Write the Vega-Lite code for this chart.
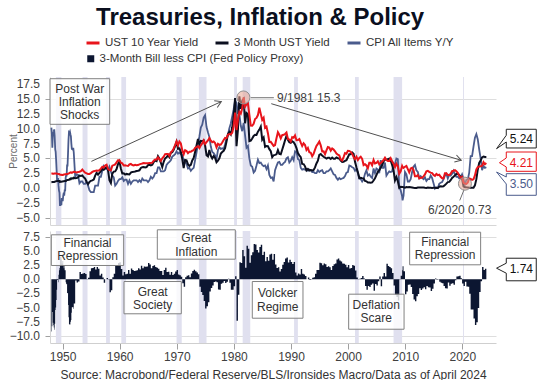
{
"$schema": "https://vega.github.io/schema/vega-lite/v6.json",
"padding": {"left": 8, "top": 6, "right": 0, "bottom": 0},
"background": "white",
"title": {"text": "Treasuries, Inflation & Policy", "font": "Liberation Sans", "fontSize": 24, "fontWeight": "bold", "color": "#0b0f1e", "anchor": "middle", "offset": 5, "dx": -13},
"config": {
  "font": "Liberation Sans",
  "view": {"stroke": null},
  "axis": {"labelFont": "Liberation Sans", "labelFontSize": 12, "labelColor": "#404040", "gridColor": "#dedede", "tickColor": "#a0a0a0", "domainColor": "#d6d6d6", "titleFont": "Liberation Sans"},
  "legend": {"labelFont": "Liberation Sans", "labelLimit": 400}
},
"datasets": {
"m": [
{"t":1948.04,"a":2.45,"b":0.97,"c":10.2,"p":-9.23},
{"t":1948.12,"a":2.45,"b":0.99,"c":9.3,"p":-8.31},
{"t":1948.21,"a":2.44,"b":1.00,"c":6.8,"p":-5.80},
{"t":1948.29,"a":2.42,"b":1.00,"c":8.7,"p":-7.70},
{"t":1948.37,"a":2.40,"b":1.00,"c":9.1,"p":-8.10},
{"t":1948.46,"a":2.41,"b":1.00,"c":9.5,"p":-8.50},
{"t":1948.54,"a":2.44,"b":1.00,"c":9.9,"p":-8.90},
{"t":1948.62,"a":2.45,"b":1.05,"c":8.9,"p":-7.85},
{"t":1948.71,"a":2.45,"b":1.07,"c":6.5,"p":-5.43},
{"t":1948.79,"a":2.45,"b":1.12,"c":6.1,"p":-4.98},
{"t":1948.87,"a":2.44,"b":1.14,"c":4.8,"p":-3.66},
{"t":1948.96,"a":2.44,"b":1.16,"c":3.0,"p":-1.84},
{"t":1949.04,"a":2.42,"b":1.17,"c":1.3,"p":-0.13},
{"t":1949.12,"a":2.39,"b":1.17,"c":1.3,"p":-0.13},
{"t":1949.21,"a":2.38,"b":1.17,"c":1.7,"p":-0.53},
{"t":1949.29,"a":2.38,"b":1.17,"c":0.4,"p":0.77},
{"t":1949.37,"a":2.38,"b":1.17,"c":-0.4,"p":1.57},
{"t":1949.46,"a":2.36,"b":1.17,"c":-0.8,"p":1.97},
{"t":1949.54,"a":2.27,"b":1.02,"c":-2.9,"p":3.92},
{"t":1949.62,"a":2.24,"b":1.04,"c":-2.9,"p":3.94},
{"t":1949.71,"a":2.22,"b":1.07,"c":-2.4,"p":3.47},
{"t":1949.79,"a":2.22,"b":1.05,"c":-2.9,"p":3.95},
{"t":1949.87,"a":2.20,"b":1.08,"c":-1.7,"p":2.78},
{"t":1949.96,"a":2.19,"b":1.10,"c":-2.1,"p":3.20},
{"t":1950.04,"a":2.20,"b":1.10,"c":-2.1,"p":3.20},
{"t":1950.12,"a":2.24,"b":1.13,"c":-1.3,"p":2.43},
{"t":1950.21,"a":2.27,"b":1.14,"c":-0.8,"p":1.94},
{"t":1950.29,"a":2.30,"b":1.16,"c":-1.3,"p":2.46},
{"t":1950.37,"a":2.31,"b":1.17,"c":-0.4,"p":1.57},
{"t":1950.46,"a":2.33,"b":1.17,"c":-0.4,"p":1.57},
{"t":1950.54,"a":2.34,"b":1.17,"c":1.7,"p":-0.53},
{"t":1950.62,"a":2.33,"b":1.21,"c":2.1,"p":-0.89},
{"t":1950.71,"a":2.36,"b":1.31,"c":2.1,"p":-0.79},
{"t":1950.79,"a":2.38,"b":1.33,"c":3.8,"p":-2.47},
{"t":1950.87,"a":2.38,"b":1.36,"c":3.8,"p":-2.44},
{"t":1950.96,"a":2.40,"b":1.37,"c":5.9,"p":-4.53},
{"t":1951.04,"a":2.46,"b":1.39,"c":8.1,"p":-6.71},
{"t":1951.12,"a":2.47,"b":1.39,"c":9.4,"p":-8.01},
{"t":1951.21,"a":2.52,"b":1.42,"c":9.3,"p":-7.88},
{"t":1951.29,"a":2.59,"b":1.52,"c":9.5,"p":-7.98},
{"t":1951.37,"a":2.61,"b":1.58,"c":9.1,"p":-7.52},
{"t":1951.46,"a":2.64,"b":1.50,"c":8.7,"p":-7.20},
{"t":1951.54,"a":2.63,"b":1.59,"c":7.5,"p":-5.91},
{"t":1951.62,"a":2.57,"b":1.64,"c":6.6,"p":-4.96},
{"t":1951.71,"a":2.61,"b":1.64,"c":6.6,"p":-4.96},
{"t":1951.79,"a":2.66,"b":1.61,"c":6.5,"p":-4.89},
{"t":1951.87,"a":2.70,"b":1.61,"c":6.8,"p":-5.19},
{"t":1951.96,"a":2.73,"b":1.73,"c":6.0,"p":-4.27},
{"t":1952.21,"a":2.70,"b":1.66,"c":1.9,"p":-0.24},
{"t":1952.46,"a":2.61,"b":1.70,"c":2.3,"p":-0.60},
{"t":1952.71,"a":2.71,"b":1.79,"c":2.2,"p":-0.41},
{"t":1952.96,"a":2.75,"b":2.09,"c":0.8,"p":1.29},
{"t":1953.21,"a":2.85,"b":2.03,"c":1.1,"p":0.93},
{"t":1953.46,"a":3.11,"b":2.11,"c":1.1,"p":1.01},
{"t":1953.71,"a":2.82,"b":1.79,"c":0.7,"p":1.09},
{"t":1953.96,"a":2.59,"b":1.60,"c":0.7,"p":0.90},
{"t":1954.21,"a":2.48,"b":1.03,"c":1.1,"p":-0.07},
{"t":1954.46,"a":2.37,"b":0.64,"c":0.4,"p":0.24},
{"t":1954.71,"a":2.38,"b":1.01,"c":-0.4,"p":1.41},
{"t":1954.96,"a":2.51,"b":1.21,"c":-0.7,"p":1.91},
{"t":1955.21,"a":2.71,"b":1.28,"c":-0.7,"p":1.98},
{"t":1955.46,"a":2.82,"b":1.43,"c":-0.7,"p":2.13},
{"t":1955.71,"a":2.89,"b":2.09,"c":0.4,"p":1.69},
{"t":1955.96,"a":2.96,"b":2.56,"c":0.4,"p":2.16},
{"t":1956.21,"a":2.93,"b":2.25,"c":0.4,"p":1.85},
{"t":1956.46,"a":3.00,"b":2.54,"c":1.9,"p":0.64},
{"t":1956.71,"a":3.28,"b":2.84,"c":1.9,"p":0.94},
{"t":1956.96,"a":3.59,"b":3.21,"c":2.9,"p":0.31},
{"t":1957.21,"a":3.44,"b":3.08,"c":3.7,"p":-0.62},
{"t":1957.46,"a":3.80,"b":3.29,"c":3.3,"p":-0.01},
{"t":1957.71,"a":3.93,"b":3.53,"c":3.3,"p":0.23},
{"t":1957.96,"a":3.21,"b":3.04,"c":3.0,"p":0.04},
{"t":1958.21,"a":3.02,"b":1.30,"c":3.6,"p":-2.30},
{"t":1958.46,"a":2.97,"b":0.83,"c":2.8,"p":-1.97},
{"t":1958.71,"a":3.77,"b":2.44,"c":2.1,"p":0.34},
{"t":1958.96,"a":3.86,"b":2.77,"c":1.8,"p":0.97},
{"t":1959.21,"a":3.99,"b":2.80,"c":0.4,"p":2.40},
{"t":1959.46,"a":4.33,"b":3.20,"c":0.7,"p":2.50},
{"t":1959.71,"a":4.68,"b":4.04,"c":1.2,"p":2.84},
{"t":1959.96,"a":4.69,"b":4.49,"c":1.5,"p":2.99},
{"t":1960.21,"a":4.28,"b":3.31,"c":1.5,"p":1.81},
{"t":1960.46,"a":4.16,"b":2.46,"c":1.8,"p":0.66},
{"t":1960.71,"a":3.80,"b":2.48,"c":1.2,"p":1.28},
{"t":1960.96,"a":3.84,"b":2.27,"c":1.4,"p":0.87},
{"t":1961.21,"a":3.78,"b":2.38,"c":1.4,"p":0.98},
{"t":1961.46,"a":3.73,"b":2.33,"c":0.7,"p":1.63},
{"t":1961.71,"a":3.98,"b":2.28,"c":1.3,"p":0.98},
{"t":1961.96,"a":4.06,"b":2.60,"c":0.7,"p":1.90},
{"t":1962.21,"a":3.89,"b":2.72,"c":1.1,"p":1.62},
{"t":1962.46,"a":3.82,"b":2.73,"c":1.3,"p":1.43},
{"t":1962.71,"a":3.93,"b":2.78,"c":1.3,"p":1.48},
{"t":1962.96,"a":3.86,"b":2.86,"c":1.3,"p":1.56},
{"t":1963.21,"a":3.87,"b":2.91,"c":1.0,"p":1.91},
{"t":1963.46,"a":4.00,"b":2.99,"c":1.3,"p":1.69},
{"t":1963.71,"a":4.08,"b":3.38,"c":1.0,"p":2.38},
{"t":1963.96,"a":4.14,"b":3.52,"c":1.6,"p":1.92},
{"t":1964.21,"a":4.22,"b":3.54,"c":1.3,"p":2.24},
{"t":1964.46,"a":4.17,"b":3.48,"c":1.3,"p":2.18},
{"t":1964.71,"a":4.20,"b":3.53,"c":1.3,"p":2.23},
{"t":1964.96,"a":4.18,"b":3.86,"c":1.0,"p":2.86},
{"t":1965.21,"a":4.21,"b":3.91,"c":1.3,"p":2.61},
{"t":1965.46,"a":4.21,"b":3.81,"c":1.9,"p":1.91},
{"t":1965.71,"a":4.28,"b":3.92,"c":1.6,"p":2.32},
{"t":1965.96,"a":4.62,"b":4.38,"c":1.9,"p":2.48},
{"t":1966.21,"a":4.81,"b":4.63,"c":2.5,"p":2.13},
{"t":1966.46,"a":4.81,"b":4.54,"c":2.5,"p":2.04},
{"t":1966.71,"a":5.18,"b":5.36,"c":3.5,"p":1.86},
{"t":1966.96,"a":4.84,"b":4.96,"c":3.5,"p":1.46},
{"t":1967.21,"a":4.55,"b":4.26,"c":2.8,"p":1.46},
{"t":1967.46,"a":5.02,"b":3.53,"c":2.8,"p":0.73},
{"t":1967.71,"a":5.30,"b":4.42,"c":2.8,"p":1.62},
{"t":1967.96,"a":5.73,"b":5.01,"c":3.0,"p":2.01},
{"t":1968.21,"a":5.76,"b":5.17,"c":3.9,"p":1.27},
{"t":1968.46,"a":5.74,"b":5.52,"c":4.2,"p":1.32},
{"t":1968.71,"a":5.42,"b":5.20,"c":4.4,"p":0.80},
{"t":1968.96,"a":6.03,"b":5.96,"c":4.7,"p":1.26},
{"t":1969.21,"a":6.24,"b":6.05,"c":5.3,"p":0.75},
{"t":1969.46,"a":6.67,"b":6.44,"c":5.5,"p":0.94},
{"t":1969.71,"a":7.23,"b":7.08,"c":5.7,"p":1.38},
{"t":1969.96,"a":7.88,"b":7.81,"c":6.2,"p":1.61},
{"t":1970.21,"a":7.21,"b":6.63,"c":5.8,"p":0.83},
{"t":1970.46,"a":7.86,"b":6.68,"c":6.0,"p":0.68},
{"t":1970.71,"a":7.53,"b":6.12,"c":5.7,"p":0.42},
{"t":1970.96,"a":6.39,"b":4.87,"c":5.6,"p":-0.73},
{"t":1971.21,"a":5.71,"b":3.38,"c":4.7,"p":-1.32},
{"t":1971.46,"a":6.40,"b":4.75,"c":4.4,"p":0.35},
{"t":1971.71,"a":6.27,"b":4.69,"c":4.1,"p":0.59},
{"t":1971.96,"a":5.89,"b":4.01,"c":3.3,"p":0.71},
{"t":1972.21,"a":6.12,"b":3.73,"c":3.4,"p":0.33},
{"t":1972.46,"a":6.11,"b":3.91,"c":2.9,"p":1.01},
{"t":1972.71,"a":6.29,"b":4.66,"c":3.2,"p":1.46},
{"t":1972.96,"a":6.37,"b":5.07,"c":3.4,"p":1.67},
{"t":1973.21,"a":6.80,"b":6.09,"c":4.7,"p":1.39},
{"t":1973.46,"a":6.90,"b":7.19,"c":6.0,"p":1.19},
{"t":1973.71,"a":7.06,"b":8.29,"c":7.4,"p":0.89},
{"t":1973.96,"a":6.74,"b":7.36,"c":8.7,"p":-1.34},
{"t":1974.21,"a":7.21,"b":7.96,"c":10.2,"p":-2.24},
{"t":1974.46,"a":7.54,"b":7.90,"c":10.7,"p":-2.80},
{"t":1974.71,"a":8.04,"b":8.06,"c":11.9,"p":-3.84},
{"t":1974.96,"a":7.43,"b":7.15,"c":12.3,"p":-5.15},
{"t":1975.21,"a":7.73,"b":5.54,"c":10.3,"p":-4.76},
{"t":1975.46,"a":8.04,"b":5.34,"c":9.4,"p":-4.06},
{"t":1975.71,"a":8.43,"b":6.42,"c":8.6,"p":-2.18},
{"t":1975.96,"a":8.00,"b":5.44,"c":7.0,"p":-1.56},
{"t":1976.21,"a":7.73,"b":5.00,"c":6.1,"p":-1.10},
{"t":1976.46,"a":7.86,"b":5.41,"c":5.9,"p":-0.49},
{"t":1976.71,"a":7.59,"b":5.08,"c":5.5,"p":-0.42},
{"t":1976.96,"a":6.87,"b":4.35,"c":4.9,"p":-0.55},
{"t":1977.21,"a":7.46,"b":4.60,"c":6.4,"p":-1.80},
{"t":1977.46,"a":7.28,"b":5.02,"c":6.9,"p":-1.88},
{"t":1977.71,"a":7.34,"b":5.81,"c":6.6,"p":-0.79},
{"t":1977.96,"a":7.69,"b":6.07,"c":6.7,"p":-0.63},
{"t":1978.21,"a":8.11,"b":6.29,"c":6.6,"p":-0.31},
{"t":1978.46,"a":8.46,"b":6.73,"c":7.4,"p":-0.67},
{"t":1978.71,"a":8.42,"b":7.85,"c":8.3,"p":-0.45},
{"t":1978.96,"a":9.01,"b":9.08,"c":9.0,"p":0.08},
{"t":1979.21,"a":9.12,"b":9.46,"c":10.1,"p":-0.64},
{"t":1979.46,"a":9.06,"b":9.06,"c":10.9,"p":-1.84},
{"t":1979.71,"a":9.33,"b":10.26,"c":12.1,"p":-1.84},
{"t":1979.96,"a":10.39,"b":12.04,"c":13.3,"p":-1.26},
{"t":1980.21,"a":12.75,"b":15.20,"c":14.7,"p":0.50},
{"t":1980.46,"a":9.78,"b":7.07,"c":14.4,"p":-7.33},
{"t":1980.71,"a":11.51,"b":9.87,"c":12.6,"p":-2.73},
{"t":1980.96,"a":12.84,"b":15.49,"c":12.5,"p":2.99},
{"t":1981.21,"a":12.57,"b":13.36,"c":10.5,"p":2.86},
{"t":1981.46,"a":13.47,"b":14.73,"c":9.6,"p":5.13},
{"t":1981.71,"a":15.32,"b":15.05,"c":11.0,"p":4.05},
{"t":1981.96,"a":13.72,"b":10.93,"c":8.9,"p":2.03},
{"t":1982.21,"a":14.13,"b":12.68,"c":6.8,"p":5.88},
{"t":1982.46,"a":14.30,"b":12.47,"c":7.1,"p":5.37},
{"t":1982.71,"a":12.34,"b":7.92,"c":5.0,"p":2.92},
{"t":1982.96,"a":10.54,"b":8.01,"c":3.8,"p":4.21},
{"t":1983.21,"a":10.51,"b":8.35,"c":3.6,"p":4.75},
{"t":1983.46,"a":10.85,"b":8.79,"c":2.6,"p":6.19},
{"t":1983.71,"a":11.65,"b":9.00,"c":2.9,"p":6.10},
{"t":1983.96,"a":11.83,"b":8.96,"c":3.8,"p":5.16},
{"t":1984.21,"a":12.32,"b":9.52,"c":4.8,"p":4.72},
{"t":1984.46,"a":13.56,"b":9.87,"c":4.2,"p":5.67},
{"t":1984.71,"a":12.52,"b":10.37,"c":4.3,"p":6.07},
{"t":1984.96,"a":11.50,"b":8.16,"c":3.9,"p":4.26},
{"t":1985.21,"a":11.86,"b":8.52,"c":3.7,"p":4.82},
{"t":1985.46,"a":10.16,"b":6.95,"c":3.8,"p":3.15},
{"t":1985.71,"a":10.37,"b":7.10,"c":3.2,"p":3.90},
{"t":1985.96,"a":9.26,"b":7.07,"c":3.8,"p":3.27},
{"t":1986.21,"a":7.78,"b":6.56,"c":2.2,"p":4.36},
{"t":1986.46,"a":7.80,"b":6.21,"c":1.7,"p":4.51},
{"t":1986.71,"a":7.45,"b":5.21,"c":1.8,"p":3.41},
{"t":1986.96,"a":7.11,"b":5.53,"c":1.1,"p":4.43},
{"t":1987.21,"a":7.25,"b":5.59,"c":3.0,"p":2.59},
{"t":1987.46,"a":8.40,"b":5.69,"c":3.7,"p":1.99},
{"t":1987.71,"a":9.42,"b":6.40,"c":4.3,"p":2.10},
{"t":1987.96,"a":8.99,"b":5.77,"c":4.4,"p":1.37},
{"t":1988.21,"a":8.37,"b":5.69,"c":3.9,"p":1.79},
{"t":1988.46,"a":8.92,"b":6.46,"c":3.9,"p":2.56},
{"t":1988.71,"a":8.98,"b":7.24,"c":4.2,"p":3.04},
{"t":1988.96,"a":9.11,"b":8.07,"c":4.4,"p":3.67},
{"t":1989.21,"a":9.36,"b":8.82,"c":5.0,"p":3.82},
{"t":1989.46,"a":8.28,"b":8.15,"c":5.2,"p":2.95},
{"t":1989.71,"a":8.19,"b":7.75,"c":4.3,"p":3.45},
{"t":1989.96,"a":7.84,"b":7.63,"c":4.6,"p":3.03},
{"t":1990.21,"a":8.59,"b":7.90,"c":5.2,"p":2.70},
{"t":1990.46,"a":8.48,"b":7.73,"c":4.7,"p":3.03},
{"t":1990.71,"a":8.89,"b":7.36,"c":6.2,"p":1.16},
{"t":1990.96,"a":8.08,"b":6.74,"c":6.1,"p":0.64},
{"t":1991.21,"a":8.11,"b":5.91,"c":4.9,"p":1.01},
{"t":1991.46,"a":8.28,"b":5.52,"c":4.7,"p":0.82},
{"t":1991.71,"a":7.65,"b":5.22,"c":3.4,"p":1.82},
{"t":1991.96,"a":7.09,"b":4.07,"c":3.1,"p":0.97},
{"t":1992.21,"a":7.54,"b":4.04,"c":3.2,"p":0.84},
{"t":1992.46,"a":7.26,"b":3.66,"c":3.1,"p":0.56},
{"t":1992.71,"a":6.42,"b":2.97,"c":3.0,"p":-0.03},
{"t":1992.96,"a":6.77,"b":3.22,"c":2.9,"p":0.32},
{"t":1993.21,"a":6.03,"b":2.95,"c":3.1,"p":-0.15},
{"t":1993.46,"a":5.96,"b":3.04,"c":3.0,"p":0.04},
{"t":1993.71,"a":5.36,"b":2.95,"c":2.7,"p":0.25},
{"t":1993.96,"a":5.77,"b":3.06,"c":2.7,"p":0.36},
{"t":1994.21,"a":6.48,"b":3.48,"c":2.5,"p":0.98},
{"t":1994.46,"a":7.10,"b":4.14,"c":2.5,"p":1.64},
{"t":1994.71,"a":7.46,"b":4.62,"c":3.0,"p":1.62},
{"t":1994.96,"a":7.84,"b":5.60,"c":2.7,"p":2.90},
{"t":1995.21,"a":7.20,"b":5.73,"c":2.9,"p":2.83},
{"t":1995.46,"a":6.17,"b":5.47,"c":3.0,"p":2.47},
{"t":1995.71,"a":6.20,"b":5.28,"c":2.5,"p":2.78},
{"t":1995.96,"a":5.71,"b":5.14,"c":2.5,"p":2.64},
{"t":1996.21,"a":6.34,"b":4.96,"c":2.8,"p":2.16},
{"t":1996.46,"a":6.91,"b":5.09,"c":2.8,"p":2.29},
{"t":1996.71,"a":6.83,"b":5.09,"c":3.0,"p":2.09},
{"t":1996.96,"a":6.30,"b":4.91,"c":3.3,"p":1.61},
{"t":1997.21,"a":6.69,"b":5.14,"c":2.8,"p":2.34},
{"t":1997.46,"a":6.49,"b":4.93,"c":2.3,"p":2.63},
{"t":1997.71,"a":6.21,"b":4.95,"c":2.2,"p":2.75},
{"t":1997.96,"a":5.81,"b":5.16,"c":1.7,"p":3.46},
{"t":1998.21,"a":5.65,"b":5.03,"c":1.4,"p":3.63},
{"t":1998.46,"a":5.50,"b":4.98,"c":1.7,"p":3.28},
{"t":1998.71,"a":4.81,"b":4.61,"c":1.5,"p":3.11},
{"t":1998.96,"a":4.65,"b":4.39,"c":1.6,"p":2.79},
{"t":1999.21,"a":5.23,"b":4.44,"c":1.7,"p":2.74},
{"t":1999.46,"a":5.90,"b":4.57,"c":2.0,"p":2.57},
{"t":1999.71,"a":5.80,"b":4.69,"c":2.6,"p":2.09},
{"t":1999.96,"a":6.28,"b":5.20,"c":2.7,"p":2.50},
{"t":2000.21,"a":6.26,"b":5.69,"c":3.8,"p":1.89},
{"t":2000.46,"a":6.10,"b":5.69,"c":3.7,"p":1.99},
{"t":2000.71,"a":5.80,"b":6.00,"c":3.5,"p":2.50},
{"t":2000.96,"a":5.24,"b":5.77,"c":3.4,"p":2.37},
{"t":2001.21,"a":4.89,"b":4.42,"c":2.9,"p":1.52},
{"t":2001.46,"a":5.28,"b":3.49,"c":3.2,"p":0.29},
{"t":2001.71,"a":4.73,"b":2.64,"c":2.6,"p":0.04},
{"t":2001.96,"a":5.09,"b":1.69,"c":1.6,"p":0.09},
{"t":2002.21,"a":5.28,"b":1.73,"c":1.5,"p":0.23},
{"t":2002.46,"a":4.93,"b":1.67,"c":1.1,"p":0.57},
{"t":2002.71,"a":3.87,"b":1.63,"c":1.5,"p":0.13},
{"t":2002.96,"a":4.03,"b":1.19,"c":2.4,"p":-1.21},
{"t":2003.21,"a":3.81,"b":1.13,"c":3.0,"p":-1.87},
{"t":2003.46,"a":3.33,"b":0.92,"c":2.1,"p":-1.18},
{"t":2003.71,"a":4.27,"b":0.94,"c":2.3,"p":-1.36},
{"t":2003.96,"a":4.27,"b":0.90,"c":1.9,"p":-1.00},
{"t":2004.21,"a":3.83,"b":0.94,"c":1.7,"p":-0.76},
{"t":2004.46,"a":4.73,"b":1.27,"c":3.3,"p":-2.03},
{"t":2004.71,"a":4.13,"b":1.65,"c":2.5,"p":-0.85},
{"t":2004.96,"a":4.23,"b":2.19,"c":3.3,"p":-1.11},
{"t":2005.21,"a":4.50,"b":2.74,"c":3.1,"p":-0.36},
{"t":2005.46,"a":4.00,"b":2.97,"c":2.5,"p":0.47},
{"t":2005.71,"a":4.20,"b":3.44,"c":4.7,"p":-1.26},
{"t":2005.96,"a":4.47,"b":3.89,"c":3.4,"p":0.49},
{"t":2006.21,"a":4.72,"b":4.51,"c":3.4,"p":1.11},
{"t":2006.46,"a":5.11,"b":4.79,"c":4.3,"p":0.49},
{"t":2006.71,"a":4.72,"b":4.81,"c":2.1,"p":2.71},
{"t":2006.96,"a":4.56,"b":4.85,"c":2.5,"p":2.35},
{"t":2007.21,"a":4.56,"b":4.97,"c":2.8,"p":2.17},
{"t":2007.46,"a":5.03,"b":4.61,"c":2.7,"p":1.91},
{"t":2007.71,"a":4.52,"b":3.89,"c":2.8,"p":1.09},
{"t":2007.96,"a":4.10,"b":3.00,"c":4.1,"p":-1.10},
{"t":2008.21,"a":3.51,"b":1.28,"c":4.0,"p":-2.72},
{"t":2008.46,"a":4.09,"b":1.86,"c":5.0,"p":-3.14},
{"t":2008.71,"a":3.69,"b":1.13,"c":4.9,"p":-3.77},
{"t":2008.96,"a":2.42,"b":0.03,"c":0.1,"p":-0.07},
{"t":2009.21,"a":2.82,"b":0.21,"c":-0.4,"p":0.61},
{"t":2009.46,"a":3.72,"b":0.18,"c":-1.4,"p":1.58},
{"t":2009.54,"a":3.56,"b":0.18,"c":-2.1,"p":2.28},
{"t":2009.71,"a":3.40,"b":0.12,"c":-1.3,"p":1.42},
{"t":2009.96,"a":3.59,"b":0.05,"c":2.7,"p":-2.65},
{"t":2010.21,"a":3.73,"b":0.15,"c":2.3,"p":-2.15},
{"t":2010.46,"a":3.20,"b":0.12,"c":1.1,"p":-0.98},
{"t":2010.71,"a":2.65,"b":0.15,"c":1.1,"p":-0.95},
{"t":2010.96,"a":3.29,"b":0.14,"c":1.5,"p":-1.36},
{"t":2011.21,"a":3.41,"b":0.10,"c":2.7,"p":-2.60},
{"t":2011.46,"a":3.00,"b":0.04,"c":3.6,"p":-3.56},
{"t":2011.71,"a":1.98,"b":0.01,"c":3.9,"p":-3.89},
{"t":2011.96,"a":1.98,"b":0.01,"c":3.0,"p":-2.99},
{"t":2012.21,"a":2.17,"b":0.08,"c":2.7,"p":-2.62},
{"t":2012.46,"a":1.62,"b":0.09,"c":1.7,"p":-1.61},
{"t":2012.71,"a":1.72,"b":0.10,"c":2.0,"p":-1.90},
{"t":2012.96,"a":1.72,"b":0.07,"c":1.7,"p":-1.63},
{"t":2013.21,"a":1.96,"b":0.09,"c":1.5,"p":-1.41},
{"t":2013.46,"a":2.30,"b":0.04,"c":1.8,"p":-1.76},
{"t":2013.71,"a":2.81,"b":0.02,"c":1.2,"p":-1.18},
{"t":2013.96,"a":2.90,"b":0.07,"c":1.5,"p":-1.43},
{"t":2014.21,"a":2.72,"b":0.05,"c":1.5,"p":-1.45},
{"t":2014.46,"a":2.60,"b":0.04,"c":2.1,"p":-2.06},
{"t":2014.71,"a":2.53,"b":0.02,"c":1.7,"p":-1.68},
{"t":2014.96,"a":2.21,"b":0.03,"c":0.8,"p":-0.77},
{"t":2015.21,"a":2.04,"b":0.03,"c":-0.1,"p":0.13},
{"t":2015.46,"a":2.36,"b":0.02,"c":0.1,"p":-0.08},
{"t":2015.71,"a":2.17,"b":0.02,"c":0.0,"p":0.02},
{"t":2015.96,"a":2.24,"b":0.23,"c":0.7,"p":-0.47},
{"t":2016.21,"a":1.89,"b":0.29,"c":0.9,"p":-0.61},
{"t":2016.46,"a":1.64,"b":0.27,"c":1.0,"p":-0.73},
{"t":2016.71,"a":1.63,"b":0.29,"c":1.5,"p":-1.21},
{"t":2016.96,"a":2.49,"b":0.51,"c":2.1,"p":-1.59},
{"t":2017.21,"a":2.48,"b":0.74,"c":2.4,"p":-1.66},
{"t":2017.46,"a":2.19,"b":1.00,"c":1.6,"p":-0.60},
{"t":2017.71,"a":2.20,"b":1.03,"c":2.2,"p":-1.17},
{"t":2017.96,"a":2.40,"b":1.32,"c":2.1,"p":-0.78},
{"t":2018.21,"a":2.84,"b":1.70,"c":2.4,"p":-0.70},
{"t":2018.46,"a":2.91,"b":1.90,"c":2.9,"p":-1.00},
{"t":2018.71,"a":3.00,"b":2.13,"c":2.3,"p":-0.17},
{"t":2018.96,"a":2.83,"b":2.37,"c":1.9,"p":0.47},
{"t":2019.21,"a":2.57,"b":2.40,"c":1.9,"p":0.50},
{"t":2019.46,"a":2.07,"b":2.22,"c":1.6,"p":0.62},
{"t":2019.71,"a":1.70,"b":1.89,"c":1.7,"p":0.19},
{"t":2019.96,"a":1.86,"b":1.55,"c":2.3,"p":-0.75},
{"t":2020.21,"a":0.87,"b":0.29,"c":1.5,"p":-1.21},
{"t":2020.46,"a":0.73,"b":0.14,"c":0.6,"p":-0.46},
{"t":2020.71,"a":0.68,"b":0.11,"c":1.4,"p":-1.29},
{"t":2020.96,"a":0.93,"b":0.09,"c":1.4,"p":-1.31},
{"t":2021.21,"a":1.61,"b":0.03,"c":2.6,"p":-2.57},
{"t":2021.46,"a":1.52,"b":0.04,"c":5.4,"p":-5.36},
{"t":2021.71,"a":1.37,"b":0.04,"c":5.4,"p":-5.36},
{"t":2021.96,"a":1.47,"b":0.05,"c":7.0,"p":-6.95},
{"t":2022.21,"a":2.13,"b":0.44,"c":8.5,"p":-8.06},
{"t":2022.46,"a":3.14,"b":1.49,"c":9.1,"p":-7.61},
{"t":2022.71,"a":3.52,"b":3.13,"c":8.2,"p":-5.07},
{"t":2022.96,"a":3.62,"b":4.25,"c":6.5,"p":-2.25},
{"t":2023.21,"a":3.66,"b":4.63,"c":5.0,"p":-0.37},
{"t":2023.46,"a":3.75,"b":5.17,"c":3.0,"p":2.17},
{"t":2023.71,"a":4.38,"b":5.32,"c":3.7,"p":1.62},
{"t":2023.96,"a":4.02,"b":5.24,"c":3.4,"p":1.84},
{"t":2024.21,"a":4.21,"b":5.24,"c":3.5,"p":1.74}
],
"rec": [
{"s":1948.83,"e":1949.79},{"s":1953.5,"e":1954.37},{"s":1957.62,"e":1958.29},{"s":1960.29,"e":1961.12},
{"s":1969.96,"e":1970.87},{"s":1973.87,"e":1975.21},{"s":1980.04,"e":1980.54},{"s":1981.54,"e":1982.87},
{"s":1990.54,"e":1991.21},{"s":2001.21,"e":2001.87},{"s":2007.96,"e":2009.46},{"s":2020.12,"e":2020.29}
],
"arr": [{"id":1,"x":1955.05,"y":4.5,"x2":1977.8,"y2":14.6},{"id":2,"x":1986.55,"y":14.24,"x2":2019.82,"y2":4.68}],
"pts": [{"x":1981.67,"y":15.3},{"x":2020.46,"y":0.73}],
"lead": [{"x":1982.95,"y":15.25,"x2":1987.0,"y2":15.25},{"x":2020.3,"y":-0.3,"x2":2019.55,"y2":-2.1}],
"lab": [{"x":1987.55,"y":15.25,"txt":"9/1981 15.3"},{"x":2014.0,"y":-3.67,"txt":"6/2020 0.73"}],
"tbox": [{"x":1947.8,"x2":1958.25,"y":18.46,"y2":10.76}],
"ttxt": [{"x":1953.0,"y":16.77,"txt":"Post War"},{"x":1953.0,"y":14.53,"txt":"Inflation"},{"x":1953.0,"y":12.28,"txt":"Shocks"}],
"yt": [{"v":-5},{"v":-2.5},{"v":0},{"v":2.5},{"v":5},{"v":7.5},{"v":10},{"v":12.5},{"v":15},{"v":17.5}],
"yb": [{"v":-10},{"v":-7.5},{"v":-5},{"v":-2.5},{"v":0},{"v":2.5},{"v":5},{"v":7.5}],
"tco": [
{"id":"k","o":1,"x":2027.7,"y":9.92},{"id":"k","o":2,"x":2032.95,"y":9.92},{"id":"k","o":3,"x":2032.95,"y":6.76},{"id":"k","o":4,"x":2027.7,"y":6.76},{"id":"k","o":5,"x":2027.7,"y":7.77},{"id":"k","o":6,"x":2026.0,"y":6.64},{"id":"k","o":7,"x":2027.7,"y":8.9},{"id":"k","o":8,"x":2027.7,"y":9.92},
{"id":"r","o":1,"x":2027.7,"y":6.08},{"id":"r","o":2,"x":2032.95,"y":6.08},{"id":"r","o":3,"x":2032.95,"y":2.82},{"id":"r","o":4,"x":2027.7,"y":2.82},{"id":"r","o":5,"x":2027.7,"y":3.55},{"id":"r","o":6,"x":2026.5,"y":4.27},{"id":"r","o":7,"x":2027.7,"y":5.07},{"id":"r","o":8,"x":2027.7,"y":6.08},
{"id":"b","o":1,"x":2027.7,"y":2.42},{"id":"b","o":2,"x":2032.95,"y":2.42},{"id":"b","o":3,"x":2032.95,"y":-1.23},{"id":"b","o":4,"x":2027.7,"y":-1.23},{"id":"b","o":5,"x":2027.7,"y":0.68},{"id":"b","o":6,"x":2026.0,"y":2.7},{"id":"b","o":7,"x":2027.7,"y":1.86},{"id":"b","o":8,"x":2027.7,"y":2.42}
],
"tcot": [{"id":"k","x":2030.33,"y":8.23,"txt":"5.24"},{"id":"r","x":2030.33,"y":4.27,"txt":"4.21"},{"id":"b","x":2030.33,"y":0.73,"txt":"3.50"}],
"bbox": [
{"x":1948.03,"x2":1960.7,"y":7.83,"y2":2.42},
{"x":1960.76,"x2":1970.79,"y":-0.41,"y2":-6.10},
{"x":1966.59,"x2":1980.25,"y":8.71,"y2":3.53},
{"x":1983.22,"x2":1992.1,"y":-0.41,"y2":-6.88},
{"x":2000.1,"x2":2009.8,"y":-2.64,"y2":-8.82},
{"x":2010.78,"x2":2023.21,"y":8.29,"y2":2.54}
],
"btxt": [
{"x":1954.37,"y":6.30,"txt":"Financial"},{"x":1954.37,"y":4.06,"txt":"Repression"},
{"x":1965.78,"y":-2.17,"txt":"Great"},{"x":1965.78,"y":-4.51,"txt":"Society"},
{"x":1973.42,"y":7.23,"txt":"Great"},{"x":1973.42,"y":4.88,"txt":"Inflation"},
{"x":1987.67,"y":-2.47,"txt":"Volcker"},{"x":1987.67,"y":-4.94,"txt":"Regime"},
{"x":2004.93,"y":-4.51,"txt":"Deflation"},{"x":2004.93,"y":-6.88,"txt":"Scare"},
{"x":2017.0,"y":6.52,"txt":"Financial"},{"x":2017.0,"y":4.30,"txt":"Repression"}
],
"bco": [
{"o":1,"x":2027.7,"y":3.70},{"o":2,"x":2032.95,"y":3.70},{"o":3,"x":2032.95,"y":-0.28},{"o":4,"x":2027.7,"y":-0.28},{"o":5,"x":2027.7,"y":1.06},{"o":6,"x":2026.0,"y":1.94},{"o":7,"x":2027.7,"y":2.82},{"o":8,"x":2027.7,"y":3.70}
],
"bcot": [{"x":2030.33,"y":1.83,"txt":"1.74"}]
},
"bounds": "flush",
"spacing": 6,
"resolve": {"scale": {"color": "independent", "fill": "independent", "stroke": "independent"}},
"vconcat": [
{
 "width": 446, "height": 148,
 "layer": [
  {"data": {"name": "rec"}, "mark": {"type": "rect", "color": "#e0e0ef"},
   "encoding": {
     "x": {"field": "s", "type": "quantitative", "scale": {"domain": [1947.8, 2025.9], "nice": false, "zero": false},
           "axis": {"labels": false, "ticks": false, "domain": true, "grid": false, "title": null, "domainColor": "#d6d6d6"}},
     "x2": {"field": "e"}}},
  {"data": {"name": "m"}, "mark": {"type": "line", "strokeWidth": 1.8},
   "encoding": {
     "x": {"field": "t", "type": "quantitative"},
     "y": {"field": "c", "type": "quantitative", "scale": {"domain": [-6.25, 18.75], "nice": false, "zero": false},
           "axis": {"values": [-5, -2.5, 0, 2.5, 5, 7.5, 10, 12.5, 15, 17.5], "labels": false, "grid": true, "domain": true, "tickSize": 5, "title": "Percent", "titleFontSize": 10, "titleFontWeight": "normal", "titleColor": "#6b6b6b", "titlePadding": 26.5}},
     "color": {"datum": "CPI All Items Y/Y", "type": "nominal",
       "scale": {"domain": ["UST 10 Year Yield", "3 Month UST Yield", "CPI All Items Y/Y"], "range": ["#e8141b", "#0b0f1f", "#4a5b8c"]},
       "legend": {"orient": "none", "legendX": 35, "legendY": -42, "direction": "horizontal", "title": null, "symbolType": "stroke", "symbolSize": 169, "symbolStrokeWidth": 3, "labelFontSize": 11.5, "labelColor": "#333333", "columnPadding": 10, "labelOffset": 4, "padding": 0}}}},
  {"data": {"name": "yt"}, "mark": {"type": "text", "fontSize": 12, "color": "#404040", "align": "right", "baseline": "middle"},
   "encoding": {"x": {"datum": 1946.05, "type": "quantitative"}, "y": {"field": "v", "type": "quantitative"}, "text": {"field": "v", "type": "quantitative", "format": ".1f"}}},
  {"data": {"name": "m"}, "mark": {"type": "line", "strokeWidth": 2},
   "encoding": {"x": {"field": "t", "type": "quantitative"}, "y": {"field": "b", "type": "quantitative"}, "color": {"datum": "3 Month UST Yield", "type": "nominal"}}},
  {"data": {"name": "m"}, "mark": {"type": "line", "strokeWidth": 2},
   "encoding": {"x": {"field": "t", "type": "quantitative"}, "y": {"field": "a", "type": "quantitative"}, "color": {"datum": "UST 10 Year Yield", "type": "nominal"}}},
  {"data": {"name": "tbox"}, "mark": {"type": "rect", "fill": "white", "fillOpacity": 0.8, "stroke": "#808080", "strokeWidth": 1},
   "encoding": {"x": {"field": "x", "type": "quantitative"}, "x2": {"field": "x2"}, "y": {"field": "y", "type": "quantitative"}, "y2": {"field": "y2"}}},
  {"data": {"name": "ttxt"}, "mark": {"type": "text", "fontSize": 12, "color": "#333333", "align": "center", "baseline": "middle"},
   "encoding": {"x": {"field": "x", "type": "quantitative"}, "y": {"field": "y", "type": "quantitative"}, "text": {"field": "txt"}}},
  {"data": {"name": "arr"}, "mark": {"type": "rule", "color": "#505050", "strokeWidth": 1},
   "encoding": {"x": {"field": "x", "type": "quantitative"}, "y": {"field": "y", "type": "quantitative"}, "x2": {"field": "x2"}, "y2": {"field": "y2"}}},
  {"data": {"name": "arr"}, "transform": [{"filter": "datum.id == 1"}],
   "mark": {"type": "point", "shape": "M-1,-0.6L0,0L-1,0.6", "filled": false, "stroke": "#505050", "strokeWidth": 1, "size": 150, "angle": 335.5, "opacity": 1},
   "encoding": {"x": {"field": "x2", "type": "quantitative"}, "y": {"field": "y2", "type": "quantitative"}}},
  {"data": {"name": "arr"}, "transform": [{"filter": "datum.id == 2"}],
   "mark": {"type": "point", "shape": "M-1,-0.6L0,0L-1,0.6", "filled": false, "stroke": "#505050", "strokeWidth": 1, "size": 150, "angle": 16.6, "opacity": 1},
   "encoding": {"x": {"field": "x2", "type": "quantitative"}, "y": {"field": "y2", "type": "quantitative"}}},
  {"data": {"name": "lead"}, "mark": {"type": "rule", "color": "#707070", "strokeWidth": 1},
   "encoding": {"x": {"field": "x", "type": "quantitative"}, "y": {"field": "y", "type": "quantitative"}, "x2": {"field": "x2"}, "y2": {"field": "y2"}}},
  {"data": {"name": "pts"}, "mark": {"type": "point", "shape": "circle", "filled": true, "fill": "#e9a48f", "fillOpacity": 0.55, "stroke": "#909090", "strokeWidth": 1, "strokeOpacity": 1, "size": 169},
   "encoding": {"x": {"field": "x", "type": "quantitative"}, "y": {"field": "y", "type": "quantitative"}}},
  {"data": {"name": "lab"}, "mark": {"type": "text", "fontSize": 12, "color": "#404040", "align": "left", "baseline": "middle"},
   "encoding": {"x": {"field": "x", "type": "quantitative"}, "y": {"field": "y", "type": "quantitative"}, "text": {"field": "txt"}}},
  {"data": {"name": "tco"}, "mark": {"type": "line", "strokeWidth": 1},
   "encoding": {"x": {"field": "x", "type": "quantitative"}, "y": {"field": "y", "type": "quantitative"}, "order": {"field": "o"},
     "stroke": {"field": "id", "type": "nominal", "scale": {"domain": ["k", "r", "b"], "range": ["#222222", "#e8141b", "#4a5b8c"]}, "legend": null}}},
  {"data": {"name": "tcot"}, "mark": {"type": "text", "fontSize": 12, "align": "center", "baseline": "middle"},
   "encoding": {"x": {"field": "x", "type": "quantitative"}, "y": {"field": "y", "type": "quantitative"}, "text": {"field": "txt"},
     "fill": {"field": "id", "type": "nominal", "scale": {"domain": ["k", "r", "b"], "range": ["#111111", "#e8141b", "#4a5b8c"]}, "legend": null}}}
 ]
},
{
 "width": 446, "height": 112,
 "layer": [
  {"data": {"name": "rec"}, "mark": {"type": "rect", "color": "#e0e0ef"},
   "encoding": {
     "x": {"field": "s", "type": "quantitative", "scale": {"domain": [1947.8, 2025.9], "nice": false, "zero": false},
           "axis": {"values": [1950, 1960, 1970, 1980, 1990, 2000, 2010, 2020], "format": "d", "grid": false, "tickSize": 6, "labelPadding": 2, "labelFlush": false, "labelOverlap": false, "domainColor": "#cfcfcf",
                    "title": "Source: Macrobond/Federal Reserve/BLS/Ironsides Macro/Data as of April 2024", "titleFontSize": 12, "titleFontWeight": "normal", "titleColor": "#333333", "titlePadding": 7}},
     "x2": {"field": "e"}}},
  {"data": {"name": "m"}, "mark": {"type": "area", "interpolate": "step-after"},
   "encoding": {
     "x": {"field": "t", "type": "quantitative"},
     "y": {"field": "p", "type": "quantitative", "scale": {"domain": [-11.25, 8.5], "nice": false, "zero": false},
           "axis": {"values": [-10, -7.5, -5, -2.5, 0, 2.5, 5, 7.5], "labels": false, "grid": true, "domain": true, "tickSize": 5, "title": null}},
     "fill": {"datum": "3-Month Bill less CPI (Fed Policy Proxy)", "type": "nominal", "scale": {"range": ["#0c1631"]},
       "legend": {"orient": "none", "legendX": 35, "legendY": -178, "direction": "horizontal", "title": null, "symbolType": "square", "symbolSize": 49, "labelFontSize": 11.5, "labelColor": "#333333", "labelOffset": 3, "padding": 0}}}},
  {"data": {"name": "yb"}, "mark": {"type": "text", "fontSize": 12, "color": "#404040", "align": "right", "baseline": "middle"},
   "encoding": {"x": {"datum": 1946.05, "type": "quantitative"}, "y": {"field": "v", "type": "quantitative"}, "text": {"field": "v", "type": "quantitative", "format": ".1f"}}},
  {"data": {"name": "bbox"}, "mark": {"type": "rect", "fill": "white", "fillOpacity": 0.8, "stroke": "#808080", "strokeWidth": 1},
   "encoding": {"x": {"field": "x", "type": "quantitative"}, "x2": {"field": "x2"}, "y": {"field": "y", "type": "quantitative"}, "y2": {"field": "y2"}}},
  {"data": {"name": "btxt"}, "mark": {"type": "text", "fontSize": 12, "color": "#333333", "align": "center", "baseline": "middle"},
   "encoding": {"x": {"field": "x", "type": "quantitative"}, "y": {"field": "y", "type": "quantitative"}, "text": {"field": "txt"}}},
  {"data": {"name": "bco"}, "mark": {"type": "line", "strokeWidth": 1, "color": "#222222"},
   "encoding": {"x": {"field": "x", "type": "quantitative"}, "y": {"field": "y", "type": "quantitative"}, "order": {"field": "o"}}},
  {"data": {"name": "bcot"}, "mark": {"type": "text", "fontSize": 12, "color": "#111111", "align": "center", "baseline": "middle"},
   "encoding": {"x": {"field": "x", "type": "quantitative"}, "y": {"field": "y", "type": "quantitative"}, "text": {"field": "txt"}}}
 ]
}
]
}
